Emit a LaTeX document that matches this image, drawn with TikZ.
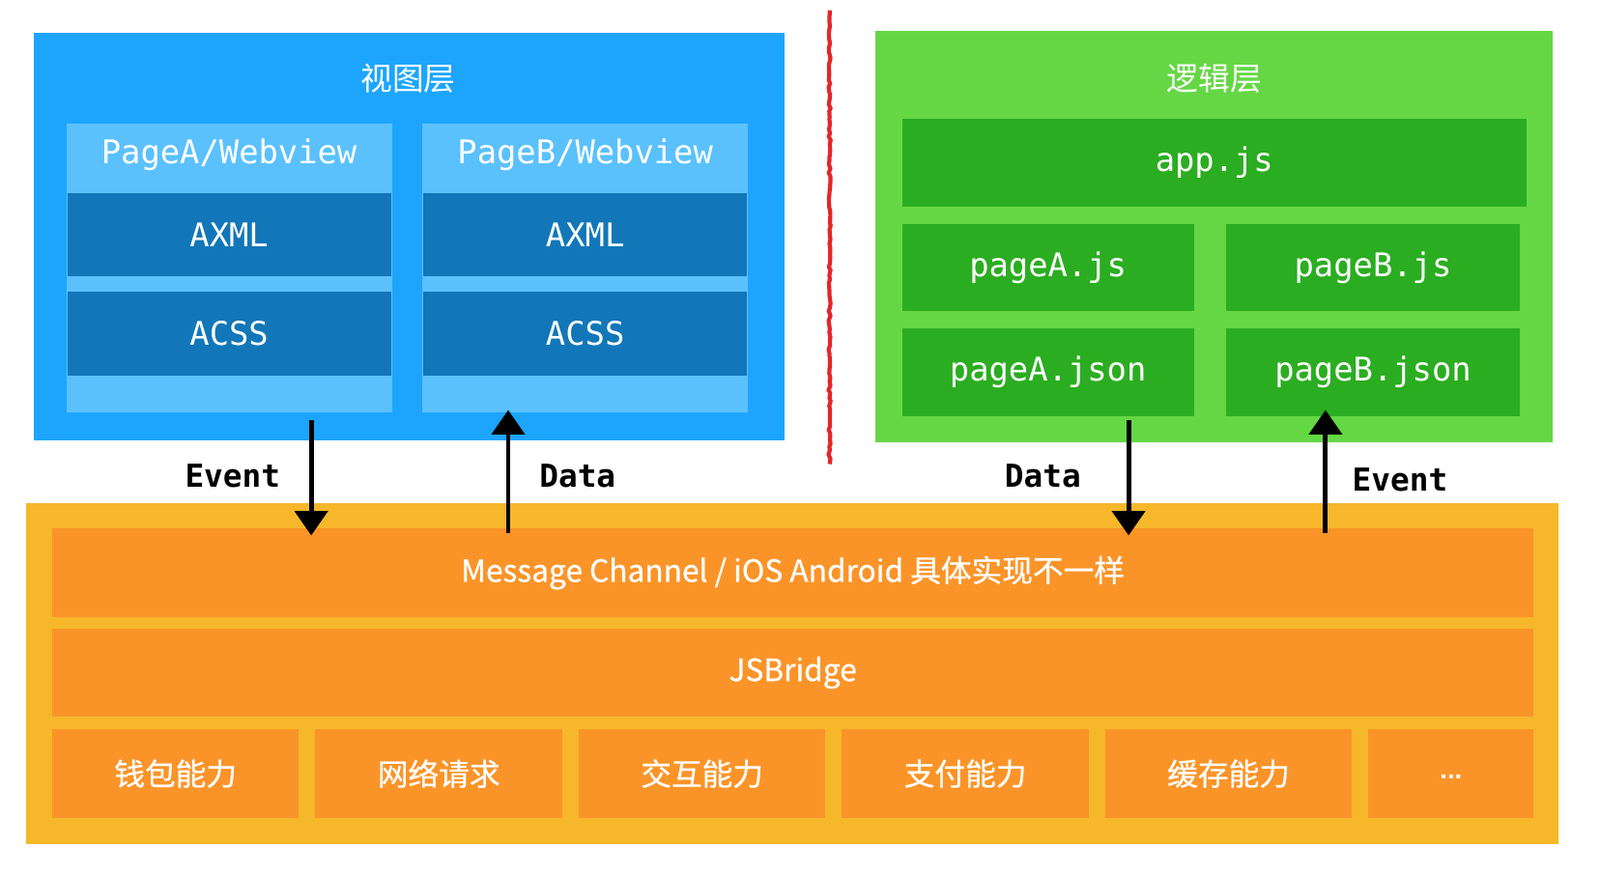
\documentclass[tikz,border=0pt]{standalone}
\usepackage{fontspec}
\setmainfont{Liberation Sans}
\newfontfamily\cjk{Noto Sans CJK SC}
\newfontfamily\cjkm{Noto Sans CJK SC}[FakeBold=0.7]
\setmonofont{DejaVu Sans Mono}
\usetikzlibrary{arrows.meta,decorations.pathmorphing}
\definecolor{blueout}{HTML}{1DA5FD}
\definecolor{bluelight}{HTML}{5BC1FC}
\definecolor{bluedark}{HTML}{1277B8}
\definecolor{greenout}{HTML}{65D744}
\definecolor{greendark}{HTML}{2BAD21}
\definecolor{orangeout}{HTML}{F6B72B}
\definecolor{orangein}{HTML}{FB9428}
\definecolor{redline}{HTML}{E3262A}
\newcommand\bx[7]{\node[#6, minimum width={(#4-#2)*0.5pt}, minimum height={(#5-#3)*0.5pt}] (#1) at ({(#2+#4)/2},{(#3+#5)/2}) {#7};}
\tikzset{
  plain/.style={inner sep=0pt, outer sep=0pt, text=white},
  outblue/.style={plain, fill=blueout},
  lightblue/.style={plain, fill=bluelight},
  darkblue/.style={plain, fill=bluedark, font=\ttfamily\fontsize{16}{18}\selectfont},
  outgreen/.style={plain, fill=greenout},
  darkgreen/.style={plain, fill=greendark, font=\ttfamily\fontsize{16}{18}\selectfont},
  outorange/.style={plain, fill=orangeout},
  inorange/.style={plain, fill=orangein, font=\cjkm\fontsize{15}{18}\selectfont},
  titletext/.style={text=white, font=\cjk\fontsize{15.5}{18}\selectfont, inner sep=0pt},
  headtext/.style={text=white, font=\ttfamily\fontsize{16}{18}\selectfont, inner sep=0pt},
  lbl/.style={text=black, font=\ttfamily\bfseries\fontsize{15.5}{18}\selectfont, inner sep=0pt},
  sketch/.style={draw=black, line width=2.3pt, -{Triangle[length=12pt,width=16pt]}}
}
\begin{document}
\begin{tikzpicture}[x=0.5pt,y=-0.5pt]
\useasboundingbox (0,0) rectangle (1568,856);
\fill[white] (0,0) rectangle (1568,856);
% view layer
\bx{view}{33}{32}{769}{432}{outblue}{}
\node[titletext] (viewt) at (400,77) {视图层};
\bx{pageA}{65}{121}{384}{404}{lightblue}{}
\node[headtext] (pageAt) at (224.5,152) {PageA/Webview};
\bx{axmlA}{66}{189}{383}{271}{darkblue}{AXML}
\bx{acssA}{66}{286}{383}{368}{darkblue}{ACSS}
\bx{pageB}{414}{121}{733}{404}{lightblue}{}
\node[headtext] (pageBt) at (573.5,152) {PageB/Webview};
\bx{axmlB}{415}{189}{732}{271}{darkblue}{AXML}
\bx{acssB}{415}{286}{732}{368}{darkblue}{ACSS}
% divider
\draw[redline, line width=2pt, decorate, decoration={random steps, segment length=2pt, amplitude=0.5pt}] (813,10) -- (813,455);
% logic layer
\bx{logic}{858}{30}{1522}{434}{outgreen}{}
\node[titletext] (logict) at (1190,77) {逻辑层};
\bx{app}{884}{116}{1496}{203}{darkgreen}{app.js}
\bx{pAjs}{884}{220}{1170}{305}{darkgreen}{pageA.js}
\bx{pBjs}{1202}{220}{1489}{305}{darkgreen}{pageB.js}
\bx{pAjson}{884}{322}{1170}{408}{darkgreen}{pageA.json}
\bx{pBjson}{1202}{322}{1489}{408}{darkgreen}{pageB.json}
% native layer
\bx{native}{26}{493}{1527}{828}{outorange}{}
\bx{msg}{51}{518}{1503}{605}{inorange}{Message Channel / iOS Android 具体实现不一样}
\bx{jsb}{51}{616}{1503}{703}{inorange}{JSBridge}
\bx{c1}{51}{715}{293}{802}{inorange}{钱包能力}
\bx{c2}{309}{715}{551}{802}{inorange}{网络请求}
\bx{c3}{567}{715}{809}{802}{inorange}{交互能力}
\bx{c4}{825}{715}{1067}{802}{inorange}{支付能力}
\bx{c5}{1083}{715}{1325}{802}{inorange}{缓存能力}
\bx{c6}{1341}{715}{1503}{802}{inorange}{}
\node[text=white, font=\bfseries\fontsize{13}{15}\selectfont, inner sep=0pt] (c6t) at (1422,762) {...};
% arrows
\coordinate (e1s) at (305,412);
\coordinate (e1e) at (305,525);
\coordinate (d1s) at (498,523);
\coordinate (d1e) at (498,402);
\coordinate (d2s) at (1106,412);
\coordinate (d2e) at (1106,525);
\coordinate (e2s) at (1299,523);
\coordinate (e2e) at (1299,402);
\draw[sketch] (e1s) -- (e1e);
\draw[sketch] (d1s) -- (d1e);
\draw[sketch] (d2s) -- (d2e);
\draw[sketch] (e2s) -- (e2e);
\node[lbl] (ev1) at (228,467) {Event};
\node[lbl] (da1) at (566,467) {Data};
\node[lbl] (da2) at (1022,467) {Data};
\node[lbl] (ev2) at (1372,470) {Event};
\end{tikzpicture}
\end{document}
